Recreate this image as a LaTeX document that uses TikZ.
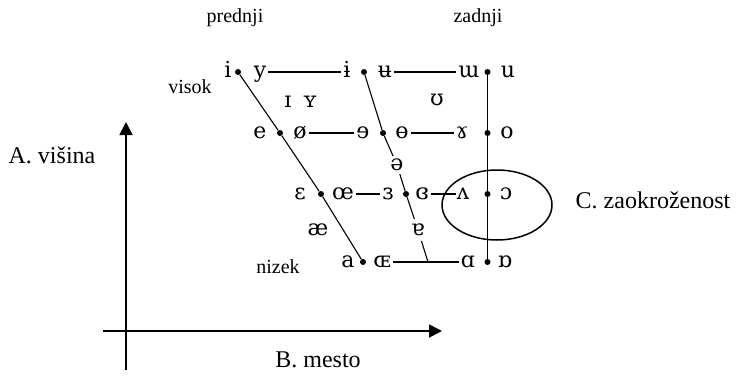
\documentclass[tikz,border=0pt]{standalone}
\usepackage{fontspec}
\setmainfont{Liberation Serif}
\newfontfamily\ipafont{DejaVu Serif}
\usetikzlibrary{arrows.meta,shapes.geometric}
\tikzset{vowel/.style={anchor=center, text height=11.5pt, text depth=0pt, inner sep=2pt, font=\ipafont\fontsize{22}{26}\selectfont},
dot/.style={circle, fill=black, inner sep=0pt, minimum size=6pt},
tag/.style={font=\fontsize{20}{24}\selectfont},
bigtag/.style={font=\fontsize{24}{28}\selectfont},
axis/.style={draw, line width=1.8pt, -{Triangle[length=13pt,width=13pt]}},
line/.style={draw, line width=1.1pt, -}}

\begin{document}
\begin{tikzpicture}[x=1pt, y=-1pt]
    \useasboundingbox (0,0) rectangle (736,381);

    % Axes
    \coordinate (ybot) at (126,370);
    \coordinate (ytop) at (126,122);
    \coordinate (xleft) at (103,331);
    \coordinate (xright) at (442,331);
    \draw[axis] (ybot) -- (ytop);
    \draw[axis] (xleft) -- (xright);
    \node[bigtag] (height) at (52,155) {A. višina};
    \node[bigtag] (place) at (318,360) {B. mesto};

    % Headings
    \node[tag] (front) at (235,18) {prednji};
    \node[tag] (back) at (478,18) {zadnji};
    \node[tag] (high) at (190,87) {visok};
    \node[tag] (low) at (278,267) {nizek};

    % Row 1: close
    \node[vowel] (i) at (228,72) {i};
    \node[dot] (d1f) at (238,72) {};
    \node[vowel] (y) at (260,72) {y};
    \node[vowel] (ibar) at (347,72) {ɨ};
    \node[dot] (d1c) at (364,72) {};
    \node[vowel] (ubar) at (385,72) {ʉ};
    \node[vowel] (mturn) at (469,72) {ɯ};
    \node[dot] (d1b) at (487.5,72) {};
    \node[vowel] (u) at (508,72) {u};

    % Near-close
    \node[vowel] (smallI) at (288,102) {ɪ};
    \node[vowel] (smallY) at (310,102) {ʏ};
    \node[vowel] (upsilon) at (437,100) {ʊ};

    % Row 2: close-mid
    \node[vowel] (e) at (260,133) {e};
    \node[dot] (d2f) at (280,133) {};
    \node[vowel] (oslash) at (300,133) {ø};
    \node[vowel] (revE) at (363,133) {ɘ};
    \node[dot] (d2c) at (383,133) {};
    \node[vowel] (obar) at (402,133) {ɵ};
    \node[vowel] (rams) at (462,133) {ɤ};
    \node[dot] (d2b) at (487.5,133) {};
    \node[vowel] (o) at (507,133) {o};

    \node[vowel, inner sep=3pt] (schwa) at (397,165) {ə};

    % Row 3: open-mid
    \node[vowel] (eps) at (300,194) {ɛ};
    \node[dot] (d3f) at (321,194) {};
    \node[vowel] (oelig) at (343,194) {œ};
    \node[vowel] (reveps) at (388,194) {ɜ};
    \node[dot] (d3c) at (406,194) {};
    \node[vowel] (closedeps) at (422,194) {ɞ};
    \node[vowel, inner sep=0.5pt] (vturn) at (463,194) {ʌ};
    \node[dot] (d3b) at (487.5,194) {};
    \node[vowel] (oopen) at (506,194) {ɔ};

    \node[vowel] (ae) at (318,230) {æ};
    \node[vowel, inner sep=5pt] (aturn) at (418,230) {ɐ};

    % Row 4: open
    \node[vowel] (a) at (348,262) {a};
    \node[dot] (d4f) at (363,262) {};
    \node[vowel] (OE) at (382,262) {ɶ};
    \node[vowel] (alpha) at (468,262) {ɑ};
    \node[dot] (d4b) at (487.5,262) {};
    \node[vowel] (alphaturn) at (505,262) {ɒ};

    % Horizontal lines
    \draw[line] (y.east) -- (ibar.west);
    \draw[line] (ubar.east) -- (mturn.west);
    \draw[line] (oslash.east) -- (revE.west);
    \draw[line] (obar.east) -- (rams.west);
    \draw[line] (oelig.east) -- (reveps.west);
    \draw[line] (closedeps.east) -- (vturn.west);
    \draw[line] (OE.east) -- (alpha.west);

    % Front, central and back lines
    \coordinate (cbot) at (428,262);
    \draw[line] (d1f) -- (d2f) -- (d3f) -- (d4f);
    \draw[line] (d1c) -- (d2c) -- (schwa) -- (d3c) -- (aturn) -- (cbot);
    \draw[line] (d1b) -- (d4b);

    % Rounding
    \node[draw, ellipse, line width=1.5pt, minimum width=110pt, minimum height=70pt] (rounded) at (497,205) {};
    \node[bigtag] (rounding) at (653,200) {C. zaokroženost};
\end{tikzpicture}
\end{document}
